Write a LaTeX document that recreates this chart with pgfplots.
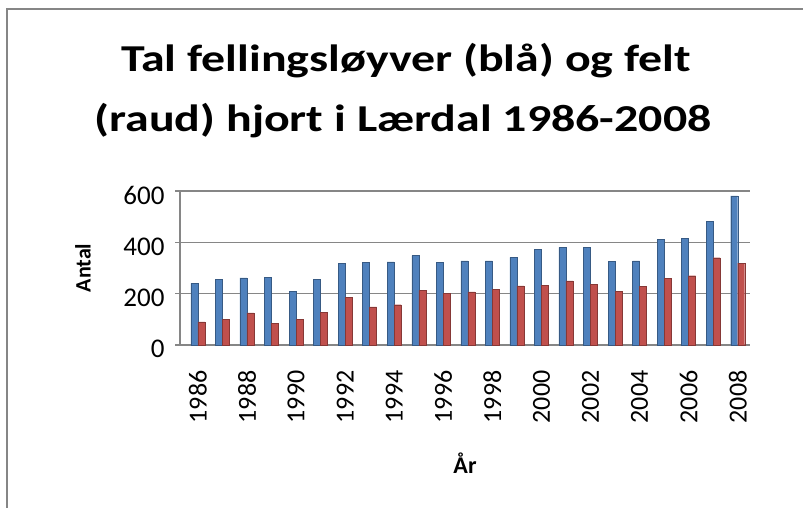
\documentclass[border=0pt]{standalone}
\usepackage{pgfplots}
\pgfplotsset{compat=1.18}
\usepackage{fontspec}
\setmainfont{Carlito}
\definecolor{xlblue}{HTML}{4F81BD}
\definecolor{xlred}{HTML}{C0504D}
\definecolor{xlgrid}{HTML}{868686}
\begin{document}
\begin{tikzpicture}
\useasboundingbox (0,0) rectangle (803bp,508bp);
\fill[white] (0,0) rectangle (803bp,508bp);
\draw[xlgrid, line width=1.2bp] (7bp,0) -- (7bp,499bp) -- (803bp,499bp);
\node[anchor=base, font=\fontsize{38bp}{46bp}\selectfont\bfseries] at (406bp,436bp)
  {\scalebox{1.26}[1]{Tal fellingsløyver (blå) og felt}};
\node[anchor=base, font=\fontsize{38bp}{46bp}\selectfont\bfseries] at (403bp,376bp)
  {\scalebox{1.26}[1]{(raud) hjort i Lærdal 1986-2008}};
\begin{axis}[
  at={(180bp,163bp)}, anchor=south west,
  scale only axis, width=570bp, height=154bp,
  xmin=1985.27, xmax=2008.5, ymin=0, ymax=600,
  ytick={0,200,400,600},
  xtick={1986,1988,...,2008},
  x tick label style={rotate=90, anchor=east, font=\fontsize{26bp}{30bp}\selectfont, xshift=-17bp},
  y tick label style={font=\fontsize{27bp}{30bp}\selectfont, xshift=-7bp, yshift=-4bp},
  /pgf/number format/assume math mode=true,
  /pgf/number format/set thousands separator={},
  axis x line*=bottom, axis y line*=left,
  axis line style={xlgrid, line width=1.5bp},
  ymajorgrids, grid style={xlgrid, line width=1.5bp},
  major tick length=5bp,
  ytick style={xlgrid, line width=1.2bp},
  xtick style={draw=none},
  tick align=outside,
  ylabel={\textbf{Antal}}, ylabel style={font=\fontsize{22bp}{24bp}\selectfont, at={(axis description cs:0,0.5)}, anchor=center, yshift=97bp},
  xlabel={\textbf{År}}, xlabel style={font=\fontsize{24bp}{26bp}\selectfont, at={(axis description cs:0.5,0)}, anchor=center, yshift=-118bp},
  ybar, bar width=7bp,
  clip=false,
]
\addplot[fill=xlblue, draw=xlblue!70!black, line width=0.4bp, bar shift=-3.5bp] coordinates {
(1986,240) (1987,255) (1988,262) (1989,263) (1990,208) (1991,255) (1992,318)
(1993,322) (1994,324) (1995,348) (1996,322) (1997,328) (1998,328) (1999,341)
(2000,373) (2001,380) (2002,380) (2003,326) (2004,328) (2005,413) (2006,416)
(2007,483) (2008,581)};
\addplot[fill=xlred, draw=xlred!70!black, line width=0.4bp, bar shift=3.5bp] coordinates {
(1986,90) (1987,99) (1988,125) (1989,83) (1990,99) (1991,126) (1992,187)
(1993,149) (1994,157) (1995,212) (1996,202) (1997,207) (1998,217) (1999,230)
(2000,233) (2001,250) (2002,236) (2003,208) (2004,228) (2005,259) (2006,270)
(2007,340) (2008,319)};
\end{axis}
\end{tikzpicture}
\end{document}
